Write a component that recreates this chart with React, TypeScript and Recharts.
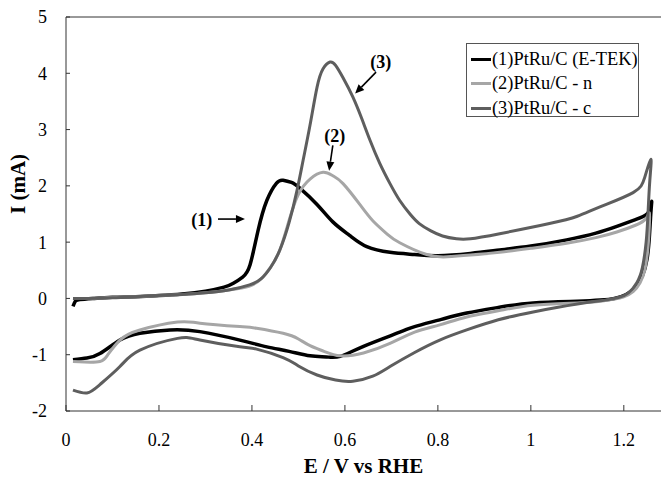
import React from "react";
import { LineChart, Line, XAxis, YAxis, ReferenceLine, ReferenceDot } from "recharts";

// E (V vs RHE), I (mA) — forward scan then reverse scan, one closed loop each
const etekLoop: [number, number][] = [
  [0.015, -0.14], [0.02, -0.05], [0.03, -0.02], [0.06, 0.0], [0.1, 0.02], [0.15, 0.03], [0.2, 0.05],
  [0.25, 0.08], [0.3, 0.13], [0.34, 0.2], [0.36, 0.27], [0.38, 0.38], [0.396, 0.6], [0.413, 1.2],
  [0.432, 1.74], [0.453, 2.05], [0.467, 2.1], [0.485, 2.06], [0.503, 1.96], [0.54, 1.67], [0.574, 1.36],
  [0.61, 1.12], [0.647, 0.92], [0.697, 0.82], [0.75, 0.78], [0.8, 0.76], [0.87, 0.8], [0.933, 0.86],
  [1.0, 0.93], [1.077, 1.04], [1.14, 1.16], [1.185, 1.28], [1.225, 1.4], [1.25, 1.5], [1.258, 1.65],
  [1.26, 1.72],
  [1.258, 1.5], [1.255, 1.1], [1.25, 0.7], [1.24, 0.4], [1.225, 0.2], [1.205, 0.07], [1.18, 0.0],
  [1.15, -0.03], [1.1, -0.05], [1.005, -0.08], [0.93, -0.16], [0.862, -0.26], [0.804, -0.38],
  [0.75, -0.5], [0.718, -0.6], [0.64, -0.85], [0.59, -1.03], [0.56, -1.04], [0.525, -1.02],
  [0.48, -0.94], [0.432, -0.86], [0.374, -0.74], [0.288, -0.59], [0.224, -0.56], [0.159, -0.62],
  [0.116, -0.74], [0.073, -0.98], [0.045, -1.06], [0.015, -1.09],
];

const nLoop: [number, number][] = [
  [0.015, 0.0], [0.05, 0.0], [0.1, 0.02], [0.15, 0.03], [0.2, 0.05], [0.25, 0.07], [0.3, 0.1],
  [0.35, 0.15], [0.395, 0.22], [0.42, 0.35], [0.44, 0.55], [0.46, 0.86], [0.48, 1.39], [0.5, 1.85],
  [0.525, 2.12], [0.553, 2.24], [0.574, 2.18], [0.596, 2.04], [0.632, 1.67], [0.66, 1.38], [0.69, 1.15],
  [0.718, 0.99], [0.776, 0.78], [0.82, 0.74], [0.87, 0.77], [0.933, 0.82], [1.0, 0.89], [1.077, 0.98],
  [1.14, 1.08], [1.185, 1.18], [1.225, 1.3], [1.248, 1.42], [1.255, 1.52],
  [1.255, 1.3], [1.252, 0.9], [1.245, 0.5], [1.235, 0.28], [1.22, 0.12], [1.2, 0.03], [1.18, -0.01],
  [1.15, -0.05], [1.1, -0.08], [1.005, -0.12], [0.93, -0.22], [0.862, -0.33], [0.804, -0.47],
  [0.75, -0.6], [0.697, -0.8], [0.64, -0.97], [0.59, -1.02], [0.555, -0.94], [0.525, -0.84],
  [0.5, -0.72], [0.467, -0.62], [0.41, -0.53], [0.374, -0.5], [0.288, -0.44], [0.24, -0.42],
  [0.159, -0.56], [0.116, -0.74], [0.09, -1.0], [0.073, -1.12], [0.04, -1.13], [0.015, -1.12],
];

const cLoop: [number, number][] = [
  [0.015, 0.0], [0.05, 0.0], [0.1, 0.01], [0.15, 0.03], [0.2, 0.05], [0.25, 0.07], [0.3, 0.1],
  [0.35, 0.15], [0.395, 0.24], [0.42, 0.35], [0.44, 0.55], [0.46, 0.86], [0.48, 1.35], [0.497, 1.92],
  [0.51, 2.45], [0.525, 3.08], [0.54, 3.75], [0.553, 4.08], [0.568, 4.2], [0.58, 4.14], [0.596, 3.92],
  [0.617, 3.58], [0.636, 3.2], [0.654, 2.81], [0.675, 2.4], [0.697, 2.04], [0.718, 1.74], [0.74, 1.5],
  [0.76, 1.33], [0.785, 1.2], [0.81, 1.11], [0.84, 1.06], [0.87, 1.06], [0.933, 1.15], [1.04, 1.33],
  [1.1, 1.46], [1.15, 1.63], [1.22, 1.88], [1.245, 2.15], [1.258, 2.47],
  [1.256, 2.1], [1.252, 1.5], [1.248, 1.0], [1.24, 0.55], [1.228, 0.28], [1.21, 0.1], [1.19, 0.02],
  [1.16, -0.03], [1.1, -0.1], [1.005, -0.24], [0.93, -0.38], [0.862, -0.56], [0.804, -0.74],
  [0.75, -0.96], [0.697, -1.21], [0.66, -1.38], [0.617, -1.47], [0.58, -1.45], [0.54, -1.36],
  [0.5, -1.2], [0.467, -1.05], [0.41, -0.9], [0.374, -0.86], [0.288, -0.74], [0.24, -0.71],
  [0.159, -0.92], [0.116, -1.21], [0.073, -1.53], [0.045, -1.68], [0.015, -1.63],
];

const xTicks = [0, 0.2, 0.4, 0.6, 0.8, 1, 1.2];
const yTicks = [-2, -1, 0, 1, 2, 3, 4, 5];

const series = [
  { name: "(1)PtRu/C (E-TEK)", points: etekLoop, color: "#000000", width: 3.5 },
  { name: "(2)PtRu/C - n", points: nLoop, color: "#a6a6a6", width: 3 },
  { name: "(3)PtRu/C - c", points: cLoop, color: "#5e5e5e", width: 3 },
];

// peak callouts: label position, arrow tail, arrow head
const callouts = [
  { label: "(1)", at: [0.292, 1.39], from: [0.327, 1.41], to: [0.385, 1.41] },
  { label: "(2)", at: [0.578, 2.9], from: [0.574, 2.72], to: [0.566, 2.27] },
  { label: "(3)", at: [0.677, 4.2], from: [0.667, 4.02], to: [0.622, 3.64] },
];

const serif = "'Liberation Serif', 'Times New Roman', serif";

const toRows = (pts: [number, number][]) => pts.map(([e, i]) => ({ e, i }));

const Arrow = (props: any) => {
  const { x1, y1, x2, y2 } = props;
  const a = Math.atan2(y2 - y1, x2 - x1);
  const len = 9;
  const w = 4;
  const bx = x2 - len * Math.cos(a);
  const by = y2 - len * Math.sin(a);
  const px = -Math.sin(a) * w;
  const py = Math.cos(a) * w;
  return (
    <g>
      <line x1={x1} y1={y1} x2={bx} y2={by} stroke="#000" strokeWidth={1.6} />
      <polygon points={`${x2},${y2} ${bx + px},${by + py} ${bx - px},${by - py}`} fill="#000" />
    </g>
  );
};

export default function App() {
  return (
    <div style={{ position: "absolute", left: 0, top: 0, width: 662, height: 479, background: "#fff", fontFamily: serif }}>
      <LineChart width={662} height={479} margin={{ top: 17, right: 1, bottom: 0, left: 0 }}>
        <XAxis
          type="number"
          dataKey="e"
          domain={[0, 1.28]}
          ticks={xTicks}
          allowDataOverflow
          tickSize={-6}
          tickMargin={28}
          height={68}
          stroke="#333"
          tick={{ fill: "#000", fontSize: 18, fontFamily: serif }}
          label={{ value: "E / V vs RHE", position: "insideBottom", offset: 6, fill: "#000", fontSize: 21, fontWeight: "bold", fontFamily: serif }}
        />
        <YAxis
          type="number"
          dataKey="i"
          domain={[-2, 5]}
          ticks={yTicks}
          allowDataOverflow
          width={66}
          tickSize={-4}
          tickMargin={23}
          stroke="#333"
          tick={{ fill: "#000", fontSize: 18, fontFamily: serif }}
          label={{ value: "I (mA)", angle: -90, position: "insideLeft", offset: 18, fill: "#000", fontSize: 21, fontWeight: "bold", fontFamily: serif }}
        />
        <ReferenceLine y={5} stroke="#333" strokeWidth={1} />
        {series.map((s) => (
          <Line
            key={s.name}
            data={toRows(s.points)}
            dataKey="i"
            name={s.name}
            type="natural"
            stroke={s.color}
            strokeWidth={s.width}
            dot={false}
            isAnimationActive={false}
          />
        ))}
        {callouts.map((c) => (
          <ReferenceLine
            key={"a" + c.label}
            segment={[{ x: c.from[0], y: c.from[1] }, { x: c.to[0], y: c.to[1] }]}
            shape={Arrow}
          />
        ))}
        {callouts.map((c) => (
          <ReferenceDot
            key={"l" + c.label}
            x={c.at[0]}
            y={c.at[1]}
            r={1}
            shape={(p: any) => (
              <text x={p.cx} y={p.cy} dy="0.35em" textAnchor="middle" fontSize={18} fontWeight="bold" fontFamily={serif} fill="#000">
                {c.label}
              </text>
            )}
          />
        ))}
      </LineChart>
      <div
        style={{
          position: "absolute",
          left: 466,
          top: 43,
          width: 173,
          height: 74,
          border: "1px solid #555",
          background: "#fff",
          boxSizing: "border-box",
          padding: "3px 0 0 4px",
        }}
      >
        {series.map((s) => (
          <div key={s.name} style={{ display: "flex", alignItems: "center", height: 24.5, fontSize: 18.4, color: "#000", whiteSpace: "nowrap" }}>
            <span style={{ display: "inline-block", width: 20, height: s.width, background: s.color, marginRight: 1 }} />
            <span>{s.name}</span>
          </div>
        ))}
      </div>
    </div>
  );
}
